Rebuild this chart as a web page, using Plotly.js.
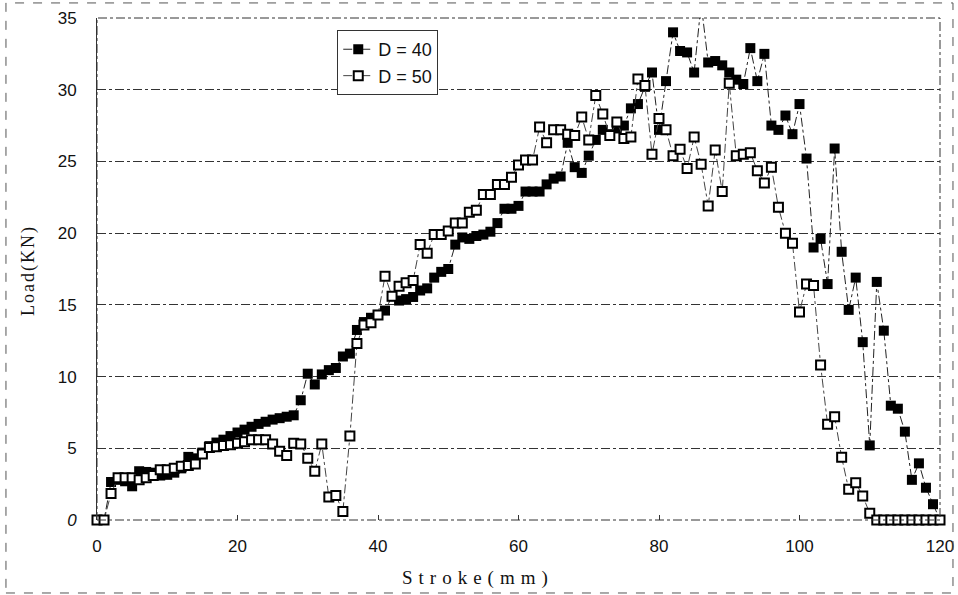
<!DOCTYPE html>
<html><head><meta charset="utf-8">
<script src="https://cdn.plot.ly/plotly-3.0.1.min.js"></script>
<style>
html,body{margin:0;padding:0;background:#fff;}
#chart{width:958px;height:595px;}
.annotation[data-index="0"] text{letter-spacing:2px;}
.annotation[data-index="1"] text{letter-spacing:6px;}
</style></head><body><div id="chart"></div>
<script>
const strokeMM = [0,1,2,3,4,5,6,7,8,9,10,11,12,13,14,15,16,17,18,19,20,
  21,22,23,24,25,26,27,28,29,30,31,32,33,34,35,36,37,38,39,40,
  41,42,43,44,45,46,47,48,49,50,51,52,53,54,55,56,57,58,59,60,
  61,62,63,64,65,66,67,68,69,70,71,72,73,74,75,76,77,78,79,80,
  81,82,83,84,85,86,87,88,89,90,91,92,93,94,95,96,97,98,99,100,
  101,102,103,104,105,106,107,108,109,110,111,112,113,114,115,116,117,118,119,120];

const loadD40 = [0,0,2.65,2.8,2.7,2.35,3.4,3.35,3.3,3.1,3.15,3.3,3.6,4.4,4.3,4.7,5.15,5.4,5.6,5.85,6.1,
  6.3,6.5,6.7,6.85,7.0,7.1,7.2,7.3,8.35,10.2,9.45,10.15,10.45,10.6,11.4,11.6,13.25,13.8,14.1,14.3,
  14.6,15.6,15.3,15.4,15.55,16.0,16.15,16.9,17.3,17.5,19.2,19.7,19.6,19.8,19.9,20.1,20.7,21.7,21.7,21.9,
  22.9,22.9,22.9,23.4,23.8,23.95,26.3,24.6,24.2,25.4,26.5,27.2,26.9,27.3,27.5,28.7,29.0,30.2,31.2,27.2,
  30.6,34.0,32.7,32.6,31.2,36.0,31.9,32.0,31.7,31.2,30.7,30.4,32.9,30.6,32.5,27.5,27.2,28.2,26.9,29.0,
  25.2,19.0,19.6,16.45,25.9,18.7,14.65,16.9,12.4,5.2,16.6,13.2,7.97,7.76,6.16,2.8,3.95,2.25,1.1,0];

const loadD50 = [0,0,1.85,2.95,2.95,2.95,2.8,2.95,3.1,3.5,3.5,3.6,3.75,3.8,3.9,4.6,5.05,5.1,5.2,5.25,5.35,
  5.45,5.6,5.6,5.6,5.3,4.8,4.5,5.35,5.3,4.3,3.4,5.3,1.6,1.7,0.6,5.85,12.3,13.6,13.75,14.3,
  17.0,15.6,16.3,16.55,16.7,19.2,18.6,19.9,19.9,20.15,20.7,20.7,21.45,21.6,22.7,22.7,23.4,23.4,23.9,24.75,
  25.1,25.1,27.4,26.3,27.2,27.2,26.9,26.8,28.1,26.5,29.6,28.3,26.8,27.75,26.6,26.7,30.75,30.3,25.5,28.0,
  27.2,25.4,25.85,24.5,26.7,24.8,21.9,25.8,22.9,30.45,25.4,25.5,25.6,24.35,23.5,24.6,21.8,20.0,19.3,14.5,
  16.45,16.35,10.8,6.67,7.2,4.37,2.14,2.6,1.67,0.47,0,0,0,0,0,0,0,0,0,0];

const seriesNames = ['D = 40','D = 50'];
const xTickVals = [0,20,40,60,80,100,120];
const yTickVals = [0,5,10,15,20,25,30,35];
const yTickText = ['<i>0</i>','5','10','15','20','25','30','35'];
const xTitle = 'Stroke(mm)';
const yTitle = 'Load(KN)';

const traces = [
  {x: strokeMM, y: loadD40, name: seriesNames[0], type: 'scatter', mode: 'lines+markers',
   line: {color: '#222', width: 1, dash: 'dashdot'},
   marker: {symbol: 'square', size: 10, color: '#000', line: {width: 0}},
   cliponaxis: true},
  {x: strokeMM, y: loadD50, name: seriesNames[1], type: 'scatter', mode: 'lines+markers',
   line: {color: '#444', width: 1, dash: 'dashdot'},
   marker: {symbol: 'square', size: 9, color: '#fff', line: {width: 2, color: '#000'}},
   cliponaxis: false}
];

const serif = '"Liberation Serif", "DejaVu Serif", serif';
const layout = {
  width: 958, height: 595,
  margin: {l: 97, r: 18, t: 18, b: 75},
  paper_bgcolor: '#fff', plot_bgcolor: '#fff',
  font: {family: '"Liberation Sans", Arial, sans-serif', size: 17, color: '#111'},
  showlegend: true,
  legend: {x: 0.285, y: 0.976, xanchor: 'left', yanchor: 'top', bgcolor: '#fff',
    bordercolor: '#333', borderwidth: 1, font: {size: 18, color: '#111'}, tracegroupgap: 0},
  xaxis: {range: [0, 120], tickvals: xTickVals, ticks: 'inside', ticklen: 5, tickcolor: '#333',
    showgrid: false, zeroline: false, showline: false, ticklabelstandoff: 14, fixedrange: true},
  yaxis: {range: [0, 35], tickvals: yTickVals, ticktext: yTickText, ticks: '',
    showgrid: true, gridcolor: '#333', gridwidth: 1, griddash: 'dashdot',
    zeroline: false, showline: true, linecolor: '#333', linewidth: 1,
    ticklabelstandoff: 16, fixedrange: true},
  shapes: [
    {type: 'rect', xref: 'paper', yref: 'paper', x0: 0, x1: 1, y0: 0, y1: 1,
     line: {color: '#333', width: 1, dash: 'dashdot'}},
    {type: 'rect', xref: 'paper', yref: 'paper', x0: -0.108, x1: 1.0154, y0: -0.1454, y1: 1.03,
     line: {color: '#555', width: 1, dash: 'dash'}}
  ],
  annotations: [
    {text: yTitle, xref: 'paper', yref: 'paper', x: -0.0819, y: 0.498, showarrow: false,
     textangle: -90, xanchor: 'center', yanchor: 'middle', font: {family: serif, size: 18, color: '#111'}},
    {text: xTitle, xref: 'paper', yref: 'paper', x: 0.452, y: -0.1155, showarrow: false,
     xanchor: 'center', yanchor: 'middle', font: {family: serif, size: 19, color: '#111'}}
  ]
};

Plotly.newPlot('chart', traces, layout, {displayModeBar: false, staticPlot: true});
</script></body></html>
